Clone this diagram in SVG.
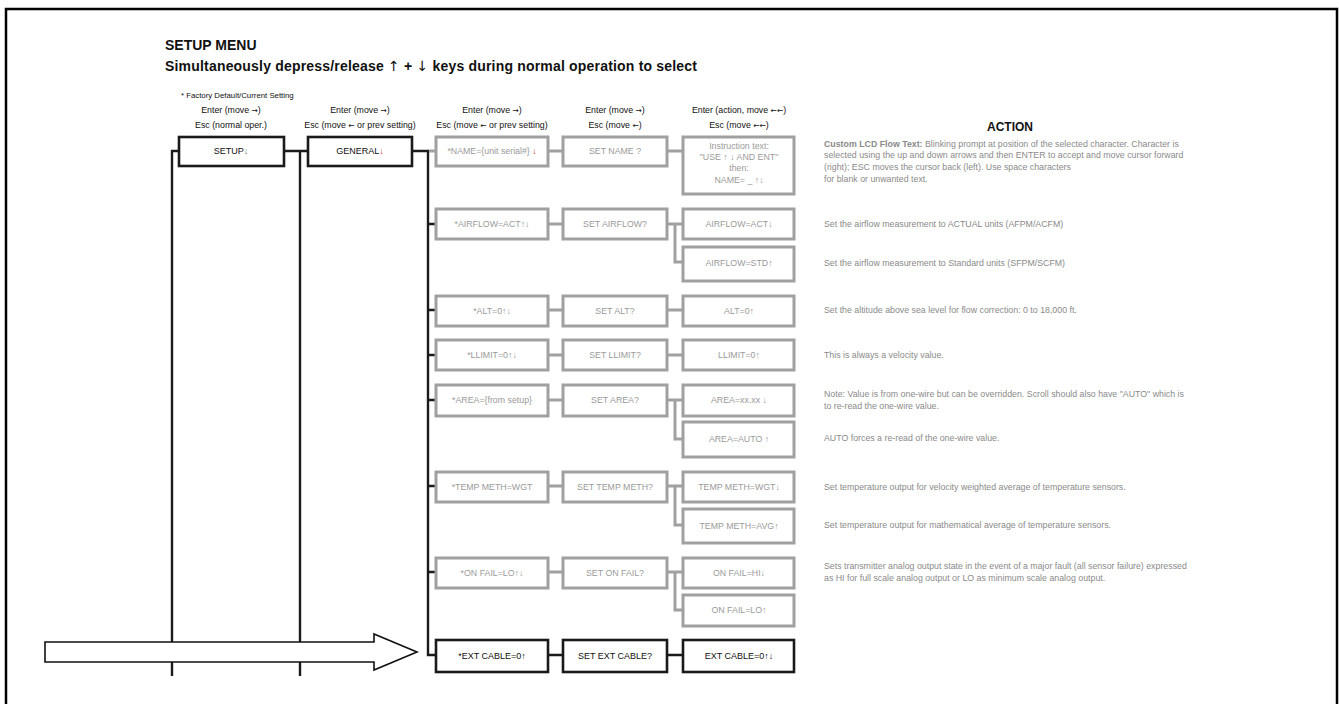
<svg xmlns="http://www.w3.org/2000/svg" width="1339" height="704" viewBox="0 0 1339 704">
<style>
text{font-family:"Liberation Sans",Arial,sans-serif;}
.ar{font-family:"DejaVu Sans",sans-serif;}
.hdr{font-size:8.8px;fill:#111;text-anchor:middle;}
.bk{fill:#fff;stroke:#1a1a1a;stroke-width:2.6;}
.gr{fill:#fff;stroke:#a0a0a0;stroke-width:3;}
.lb{font-size:9px;text-anchor:middle;fill:#111;}
.lg{font-size:8.8px;text-anchor:middle;fill:#9a9a9a;}
.act{font-size:8.8px;fill:#8a8a8a;}
.cb{fill:none;stroke:#1a1a1a;stroke-width:2.4;}
.cg{fill:none;stroke:#a0a0a0;stroke-width:3;}
.red{fill:#d23c3c;}
</style>
<rect width="1339" height="704" fill="#fff"/>
<path d="M6,704 V9 H1337 V704" fill="none" stroke="#000" stroke-width="2.5"/>

<text x="165" y="50" font-size="14" font-weight="bold" fill="#111">SETUP MENU</text>
<text x="165" y="71" font-size="14" font-weight="bold" fill="#111" textLength="532" lengthAdjust="spacing">Simultaneously depress/release <tspan class="ar" font-weight="normal">↑</tspan> + <tspan class="ar" font-weight="normal">↓</tspan> keys during normal operation to select</text>

<text x="181" y="98" font-size="7.8" fill="#111">* Factory Default/Current Setting</text>
<text class="hdr" x="231" y="113">Enter (move <tspan class="ar" font-size="7.5">→</tspan>)</text>
<text class="hdr" x="231" y="128">Esc (normal oper.)</text>
<text class="hdr" x="360" y="113">Enter (move <tspan class="ar" font-size="7.5">→</tspan>)</text>
<text class="hdr" x="360" y="128">Esc (move <tspan class="ar" font-size="7.5">←</tspan> or prev setting)</text>
<text class="hdr" x="492" y="113">Enter (move <tspan class="ar" font-size="7.5">→</tspan>)</text>
<text class="hdr" x="492" y="128">Esc (move <tspan class="ar" font-size="7.5">←</tspan> or prev setting)</text>
<text class="hdr" x="615" y="113">Enter (move <tspan class="ar" font-size="7.5">→</tspan>)</text>
<text class="hdr" x="615" y="128">Esc (move <tspan class="ar" font-size="7.5">←</tspan>)</text>
<text class="hdr" x="739" y="113">Enter (action, move <tspan class="ar" font-size="7.5">←←</tspan>)</text>
<text class="hdr" x="739" y="128">Esc (move <tspan class="ar" font-size="7.5">←←</tspan>)</text>

<text x="1010" y="131" font-size="12" font-weight="bold" fill="#111" text-anchor="middle">ACTION</text>

<g id="connectors">
  <path class="cb" d="M179,151 H172 V676"/>
  <path class="cb" d="M284,151 H308 M300,151 V676"/>
  <path class="cb" d="M412,151 H428 V655 H436"/>
  <path class="cb" d="M428,224 H436 M428,310 H436 M428,355 H436 M428,400 H436 M428,486 H436 M428,572 H436"/>
  <path class="cg" d="M429,151 H436"/>
  <path class="cg" d="M548,151 H563 M667,151 H683"/>
  <path class="cg" d="M548,224 H563 M667,224 H683 M675,224 V262 H683"/>
  <path class="cg" d="M548,310 H563 M667,310 H683"/>
  <path class="cg" d="M548,355 H563 M667,355 H683"/>
  <path class="cg" d="M548,400 H563 M667,400 H683 M675,400 V439 H683"/>
  <path class="cg" d="M548,486 H563 M667,486 H683 M675,486 V525 H683"/>
  <path class="cg" d="M548,572 H563 M667,572 H683 M675,572 V610 H683" stroke-width="2.2"/>
  <path class="cb" d="M548,655 H563 M667,655 H683"/>
</g>

<g id="setup"><rect class="bk" x="179" y="137" width="105" height="29"/><text class="lb" x="231" y="154">SETUP<tspan fill="#666">↓</tspan></text></g>
<g id="general"><rect class="bk" x="308" y="137" width="104" height="29"/><text class="lb" x="360" y="154">GENERAL<tspan class="red">↓</tspan></text></g>

<g id="name"><rect class="gr" x="436" y="137" width="112" height="29"/><text class="lg" x="492" y="154">*NAME={unit serial#} <tspan class="red">↓</tspan></text></g>
<g id="setname"><rect class="gr" x="563" y="137" width="104" height="29"/><text class="lg" x="615" y="154">SET NAME ?</text></g>
<g id="nameinstr"><rect class="gr" x="683" y="137" width="111" height="57"/>
  <text class="lg" x="739" y="149">Instruction text:</text>
  <text class="lg" x="739" y="160">"USE ↑ ↓ AND ENT"</text>
  <text class="lg" x="739" y="171">then:</text>
  <text class="lg" x="739" y="183">NAME= _ ↑↓</text></g>

<g id="airflow"><rect class="gr" x="436" y="209" width="112" height="30"/><text class="lg" x="492" y="227">*AIRFLOW=ACT↑↓</text></g>
<g id="setairflow"><rect class="gr" x="563" y="209" width="104" height="30"/><text class="lg" x="615" y="227">SET AIRFLOW?</text></g>
<g id="airflowact"><rect class="gr" x="683" y="209" width="111" height="30"/><text class="lg" x="739" y="227">AIRFLOW=ACT↓</text></g>
<g id="airflowstd"><rect class="gr" x="683" y="247" width="111" height="34"/><text class="lg" x="739" y="266">AIRFLOW=STD↑</text></g>

<g id="alt"><rect class="gr" x="436" y="296" width="112" height="30"/><text class="lg" x="492" y="314">*ALT=0↑↓</text></g>
<g id="setalt"><rect class="gr" x="563" y="296" width="104" height="30"/><text class="lg" x="615" y="314">SET ALT?</text></g>
<g id="altval"><rect class="gr" x="683" y="296" width="111" height="30"/><text class="lg" x="739" y="314">ALT=0↑</text></g>

<g id="llimit"><rect class="gr" x="436" y="340" width="112" height="30"/><text class="lg" x="492" y="358">*LLIMIT=0↑↓</text></g>
<g id="setllimit"><rect class="gr" x="563" y="340" width="104" height="30"/><text class="lg" x="615" y="358">SET LLIMIT?</text></g>
<g id="llimitval"><rect class="gr" x="683" y="340" width="111" height="30"/><text class="lg" x="739" y="358">LLIMIT=0↑</text></g>

<g id="area"><rect class="gr" x="436" y="385" width="112" height="31"/><text class="lg" x="492" y="403">*AREA={from setup}</text></g>
<g id="setarea"><rect class="gr" x="563" y="385" width="104" height="31"/><text class="lg" x="615" y="403">SET AREA?</text></g>
<g id="areaxx"><rect class="gr" x="683" y="385" width="111" height="31"/><text class="lg" x="739" y="403">AREA=xx.xx ↓</text></g>
<g id="areaauto"><rect class="gr" x="683" y="422" width="111" height="35"/><text class="lg" x="739" y="442">AREA=AUTO ↑</text></g>

<g id="temp"><rect class="gr" x="436" y="472" width="112" height="30"/><text class="lg" x="492" y="490">*TEMP METH=WGT</text></g>
<g id="settemp"><rect class="gr" x="563" y="472" width="104" height="30"/><text class="lg" x="615" y="490">SET TEMP METH?</text></g>
<g id="tempwgt"><rect class="gr" x="683" y="472" width="111" height="30"/><text class="lg" x="739" y="490">TEMP METH=WGT↓</text></g>
<g id="tempavg"><rect class="gr" x="683" y="509" width="111" height="34"/><text class="lg" x="739" y="529">TEMP METH=AVG↑</text></g>

<g id="onfail"><rect class="gr" x="436" y="558" width="112" height="30"/><text class="lg" x="492" y="576">*ON FAIL=LO↑↓</text></g>
<g id="setonfail"><rect class="gr" x="563" y="558" width="104" height="30"/><text class="lg" x="615" y="576">SET ON FAIL?</text></g>
<g id="onfailhi"><rect class="gr" x="683" y="558" width="111" height="30"/><text class="lg" x="739" y="576">ON FAIL=HI↓</text></g>
<g id="onfaillo"><rect class="gr" x="683" y="595" width="111" height="31"/><text class="lg" x="739" y="613">ON FAIL=LO↑</text></g>

<g id="extcable"><rect class="bk" x="436" y="640" width="112" height="32"/><text class="lb" x="492" y="659">*EXT CABLE=0↑</text></g>
<g id="setextcable"><rect class="bk" x="563" y="640" width="104" height="32"/><text class="lb" x="615" y="659">SET EXT CABLE?</text></g>
<g id="extcableval"><rect class="bk" x="683" y="640" width="111" height="32"/><text class="lb" x="739" y="659">EXT CABLE=0↑↓</text></g>

<g id="bigarrow"><polygon points="45,642 374,642 374,634 417,652 374,670 374,662 45,662" fill="#fff" stroke="#111" stroke-width="1.6"/></g>

<g id="actions">
<text class="act" x="824" y="147"><tspan font-weight="bold">Custom LCD Flow Text:</tspan> Blinking prompt at position of the selected character. Character is</text>
<text class="act" x="824" y="158">selected using the up and down arrows and then ENTER to accept and move cursor forward</text>
<text class="act" x="824" y="170">(right); ESC moves the cursor back (left).  Use space characters</text>
<text class="act" x="824" y="182">for blank or unwanted text.</text>
<text class="act" x="824" y="227">Set the airflow measurement to ACTUAL units (AFPM/ACFM)</text>
<text class="act" x="824" y="266">Set the airflow measurement to Standard units (SFPM/SCFM)</text>
<text class="act" x="824" y="313">Set the altitude above sea level for flow correction: 0 to 18,000 ft.</text>
<text class="act" x="824" y="358">This is always a velocity value.</text>
<text class="act" x="824" y="397">Note: Value is from one-wire but can be overridden.  Scroll should also have "AUTO" which is</text>
<text class="act" x="824" y="409">to re-read the one-wire value.</text>
<text class="act" x="824" y="441">AUTO forces a re-read of the one-wire value.</text>
<text class="act" x="824" y="490">Set temperature output for velocity weighted average of temperature sensors.</text>
<text class="act" x="824" y="528">Set temperature output for mathematical average of temperature sensors.</text>
<text class="act" x="824" y="569">Sets transmitter analog output state in the event of a major fault (all sensor failure) expressed</text>
<text class="act" x="824" y="581">as HI for full scale analog output or LO as minimum scale analog output.</text>
</g>
</svg>
